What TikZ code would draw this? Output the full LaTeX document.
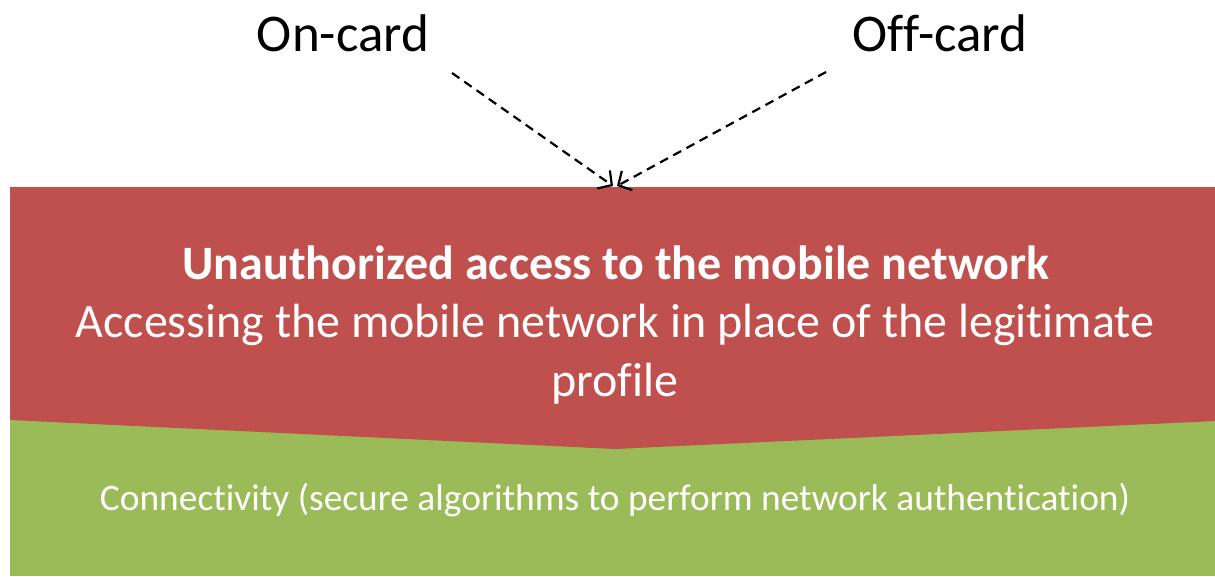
\documentclass[tikz,border=0pt]{standalone}
\usepackage{fontspec}
\setmainfont{Carlito}[Ligatures={NoCommon,NoDiscretionary,NoRare}]
\usetikzlibrary{arrows.meta}
\definecolor{threatred}{HTML}{C0504D}
\definecolor{ctrlgreen}{HTML}{9BBB59}
\begin{document}
\begin{tikzpicture}[x=1pt,y=-1pt,
  lbl/.style={inner sep=0pt,font=\fontsize{53}{60}\selectfont},
  dasharrow/.style={draw=black,line width=2.2pt,dash pattern=on 9pt off 6pt,
    -{Straight Barb[length=10pt,width=22pt,line width=2.2pt]}},
  wtext/.style={text=white,inner sep=0pt,align=center}]
\useasboundingbox (0,0) rectangle (1215,576);
% green region
\fill[ctrlgreen] (10,410) rectangle (1215,576);
% red region
\fill[threatred] (10,187) -- (1215,187) -- (1215,421) -- (615,449) -- (10,420) -- cycle;
% labels
\node[lbl] (oncard) at (343,33) {On-card};
\node[lbl] (offcard) at (940,33) {Off-card};
\coordinate (s1) at (452,73);
\coordinate (s2) at (826,72);
\coordinate (t1) at (613,186);
\coordinate (t2) at (617,186);
\draw[dasharrow] (s1) -- (t1);
\draw[dasharrow] (s2) -- (t2);
% texts
\node[wtext,font=\fontsize{48}{59}\selectfont\bfseries] (title) at (616,263) {Unauthorized access to the mobile network};
\node[wtext,font=\fontsize{48}{59}\selectfont] (desc) at (615,354) {Accessing the mobile network in place of the legitimate\\profile};
\node[wtext,font=\fontsize{37.4}{40}\selectfont] (ctrl) at (615,500) {Connectivity (secure algorithms to perform network authentication)};
\end{tikzpicture}
\end{document}
